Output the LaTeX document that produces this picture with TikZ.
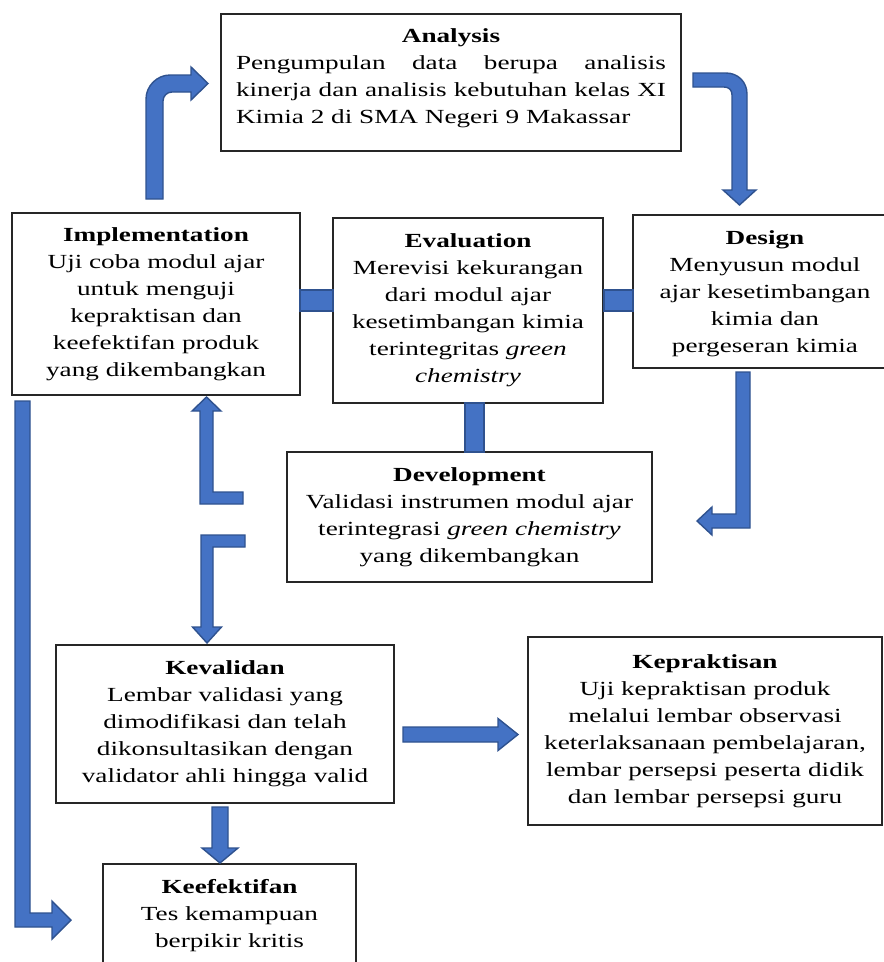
\documentclass[tikz,border=0pt]{standalone}
\usepackage{fontspec}
\setmainfont[FakeStretch=1.36]{Liberation Serif}
\definecolor{arrowblue}{HTML}{4472C4}
\definecolor{arrowedge}{HTML}{2F528F}
\tikzset{
  box/.style={draw=black!85, line width=1.2pt, fill=white, align=center,
    font=\fontsize{20}{27}\selectfont, inner sep=0pt},
  boxtext/.style={align=center, font=\fontsize{20}{27}\selectfont, inner sep=0pt},
  blk/.style={fill=arrowblue, draw=arrowedge, line width=1.4pt, line join=miter}
}
\begin{document}
\begin{tikzpicture}[x=1pt,y=-1pt]
\useasboundingbox (0,0) rectangle (884,962);
\clip (0,0) rectangle (884,962);
\fill[white] (0,0) rectangle (884,962);

% boxes
\node[box, minimum width=460pt, minimum height=137pt] (analysis) at (451,82.5) {};
\node[boxtext] (analysis-t) at (451,78.5)
  {\textbf{Analysis}\\
   \makebox[430pt][s]{Pengumpulan data berupa analisis}\\
   \makebox[430pt][s]{kinerja dan analisis kebutuhan kelas XI}\\
   \makebox[430pt][l]{Kimia 2 di SMA Negeri 9 Makassar}};
\node[box, minimum width=288pt, minimum height=182pt] (impl) at (156,304)
  {\textbf{Implementation}\\Uji coba modul ajar\\untuk menguji\\kepraktisan dan\\keefektifan produk\\yang dikembangkan};
\node[box, minimum width=270pt, minimum height=185pt] (eval) at (468,310.5)
  {\textbf{Evaluation}\\Merevisi kekurangan\\dari modul ajar\\kesetimbangan kimia\\terintegritas \textit{green}\\\textit{chemistry}};
\node[box, minimum width=264pt, minimum height=153pt] (design) at (765,291.5) {};
\node[boxtext] (design-t) at (765,294)
  {\textbf{Design}\\Menyusun modul\\ajar kesetimbangan\\kimia dan\\pergeseran kimia};
\node[box, minimum width=365pt, minimum height=130pt] (devel) at (469.5,517)
  {\textbf{Development}\\Validasi instrumen modul ajar\\terintegrasi \textit{green chemistry}\\yang dikembangkan};
\node[box, minimum width=338pt, minimum height=158pt] (keval) at (225,724)
  {\textbf{Kevalidan}\\Lembar validasi yang\\dimodifikasi dan telah\\dikonsultasikan dengan\\validator ahli hingga valid};
\node[box, minimum width=354pt, minimum height=188pt] (keprak) at (705,731)
  {\textbf{Kepraktisan}\\Uji kepraktisan produk\\melalui lembar observasi\\keterlaksanaan pembelajaran,\\lembar persepsi peserta didik\\dan lembar persepsi guru};
\node[box, minimum width=253pt, minimum height=100pt] (keef) at (229.5,914) {};
\node[boxtext] (keef-t) at (229.5,916)
  {\textbf{Keefektifan}\\Tes kemampuan\\berpikir kritis};

% connectors between Implementation, Evaluation, Design, Development
\draw[blk] (300,290) rectangle (333,311);
\draw[blk] (604,290) rectangle (633,311);
\draw[blk] (465,403) rectangle (484,452);

% Implementation -> Analysis (bent up arrow)
\draw[blk] (146,199) -- (146,99) .. controls (146,86) and (157,75) .. (170,75)
  -- (191,75) -- (191,67) -- (208,83.5) -- (191,100) -- (191,92) -- (172,92)
  .. controls (167,92) and (163,96) .. (163,101) -- (163,199) -- cycle;

% Analysis -> Design (bent down arrow)
\draw[blk] (693,73) -- (726,73) .. controls (738,73) and (747,82) .. (747,94)
  -- (747,190) -- (756,190) -- (739.5,205) -- (723,190) -- (732,190) -- (732,95)
  .. controls (732,90) and (729,87) .. (724,87) -- (693,87) -- cycle;

% Design -> Development
\draw[blk] (736,372) -- (750,372) -- (750,528) -- (712,528) -- (712,535)
  -- (697,521) -- (712,507) -- (712,514) -- (736,514) -- cycle;

% L arrow up to Implementation
\draw[blk] (206.5,397) -- (221,411) -- (213,411) -- (213,492) -- (243,492)
  -- (243,504) -- (200,504) -- (200,411) -- (192,411) -- cycle;

% Gamma arrow down to Kevalidan
\draw[blk] (245,535) -- (245,547) -- (213,547) -- (213,627) -- (221.5,627)
  -- (207,643) -- (192.5,627) -- (201,627) -- (201,535) -- cycle;

% long arrow Implementation -> Keefektifan
\draw[blk] (15,401) -- (30,401) -- (30,913) -- (52,913) -- (52,901) -- (71,920)
  -- (52,939) -- (52,927) -- (15,927) -- cycle;

% Kevalidan -> Kepraktisan
\draw[blk] (403,727) -- (498,727) -- (498,718.5) -- (518,734.5) -- (498,750.5)
  -- (498,742) -- (403,742) -- cycle;

% Kevalidan -> Keefektifan
\draw[blk] (212,807) -- (228,807) -- (228,848) -- (238,848) -- (220,863)
  -- (202,848) -- (212,848) -- cycle;
\end{tikzpicture}
\end{document}
